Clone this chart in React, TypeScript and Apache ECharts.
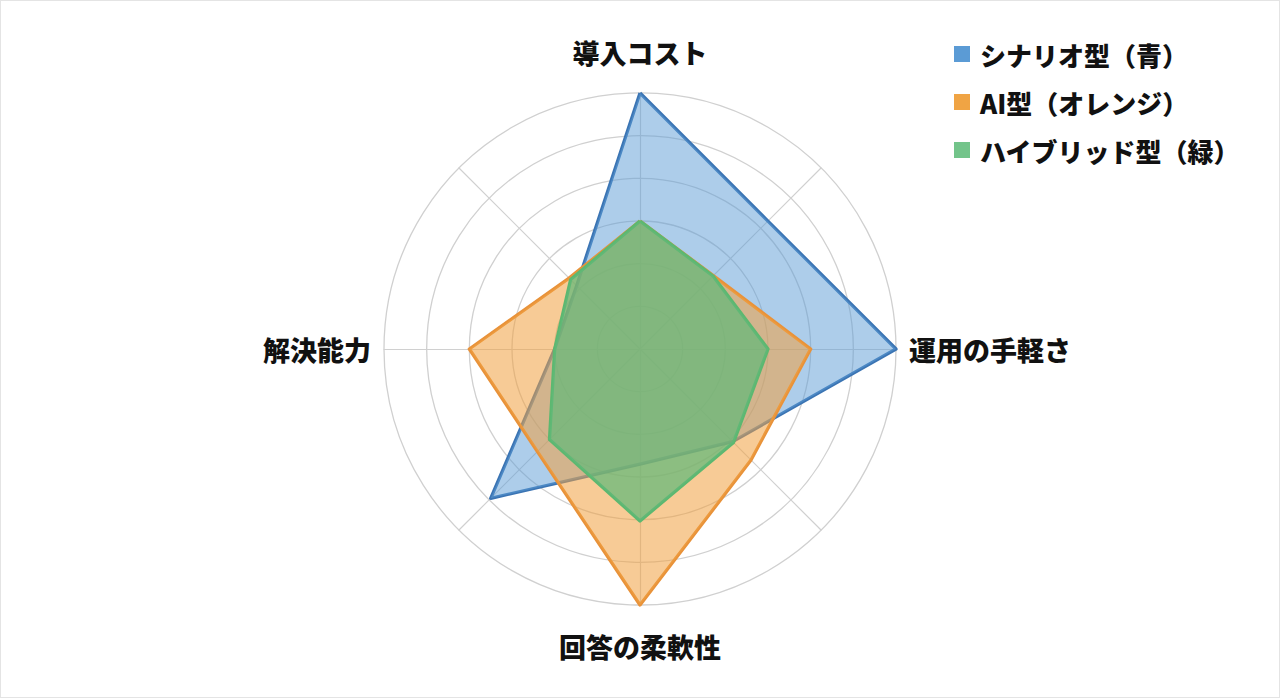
import { useEffect, useRef } from "react";
import * as echarts from "echarts";

// indicators run counter-clockwise from the top (ECharts radar default)
const indicatorNames = ["導入コスト", "", "解決能力", "", "回答の柔軟性", "", "運用の手軽さ", ""];
const maxValue = 6;

const seriesNames = ["シナリオ型（青）", "AI型（オレンジ）", "ハイブリッド型（緑）"];
const scenarioValues = [6, 2.1, 2.0, 4.95, 2.7, 3.07, 6, 4.24];
const aiValues = [3.0, 2.35, 4.0, 3.4, 6.0, 3.68, 4.0, 2.43];
const hybridValues = [3.0, 2.3, 2.0, 3.0, 4.03, 3.1, 3.0, 2.42];

const lineColors = ["#3b74b3", "#e8923a", "#5cb870"];
const fillColors = ["#5b9bd5", "#f0a040", "#62b878"];
const fillOpacity = [0.5, 0.55, 0.72];
const legendColors = ["#5b9bd5", "#f0a444", "#73c48a"];

const FONT = '"Noto Sans CJK JP", "Noto Sans", sans-serif';

export default function App() {
  const chartRef = useRef<HTMLDivElement>(null);

  useEffect(() => {
    document.body.style.margin = "0";
    if (!chartRef.current) return;
    const chart = echarts.init(chartRef.current, undefined, { renderer: "svg" });
    const values = [scenarioValues, aiValues, hybridValues];

    chart.setOption({
      animation: false,
      backgroundColor: "#ffffff",
      legend: {
        orient: "vertical",
        left: 953,
        top: 40,
        padding: 0,
        itemWidth: 16,
        itemHeight: 16,
        itemGap: 22,
        icon: "rect",
        selectedMode: false,
        data: seriesNames.map((name, i) => ({
          name,
          itemStyle: { color: legendColors[i] },
        })),
        textStyle: {
          color: "#111111",
          fontSize: 26,
          fontWeight: 900,
          fontFamily: FONT,
          padding: [0, 0, 0, 5],
        },
      },
      radar: {
        center: ["50%", "50%"],
        radius: 256,
        shape: "circle",
        splitNumber: 6,
        startAngle: 90,
        nameGap: 13,
        indicator: indicatorNames.map((name) => ({ name, max: maxValue, min: 0 })),
        axisName: {
          formatter: (name: string) => {
            if (!name) return "";
            const vertical = name === indicatorNames[0] || name === indicatorNames[4];
            return vertical ? `{v|${name}}` : `{h|${name}}`;
          },
          rich: {
            v: { color: "#111111", fontSize: 27, fontWeight: 900, fontFamily: FONT, lineHeight: 56 },
            h: { color: "#111111", fontSize: 27, fontWeight: 900, fontFamily: FONT, lineHeight: 30 },
          },
        },
        axisLine: { show: true, lineStyle: { color: "#d0d0d0", width: 1.2 } },
        splitLine: { show: true, lineStyle: { color: "#d0d0d0", width: 1.3 } },
        splitArea: { show: false },
        axisTick: { show: false },
        axisLabel: { show: false },
      },
      series: [
        {
          type: "radar",
          symbol: "none",
          data: seriesNames.map((name, i) => ({
            name,
            value: values[i],
            lineStyle: { color: lineColors[i], width: 3.3 },
            itemStyle: { color: legendColors[i] },
            areaStyle: { color: fillColors[i], opacity: fillOpacity[i] },
          })),
        },
      ],
    });

    return () => chart.dispose();
  }, []);

  return (
    <div
      ref={chartRef}
      style={{ width: 1280, height: 698, boxSizing: "border-box", border: "1px solid #e4e4e4" }}
    />
  );
}
